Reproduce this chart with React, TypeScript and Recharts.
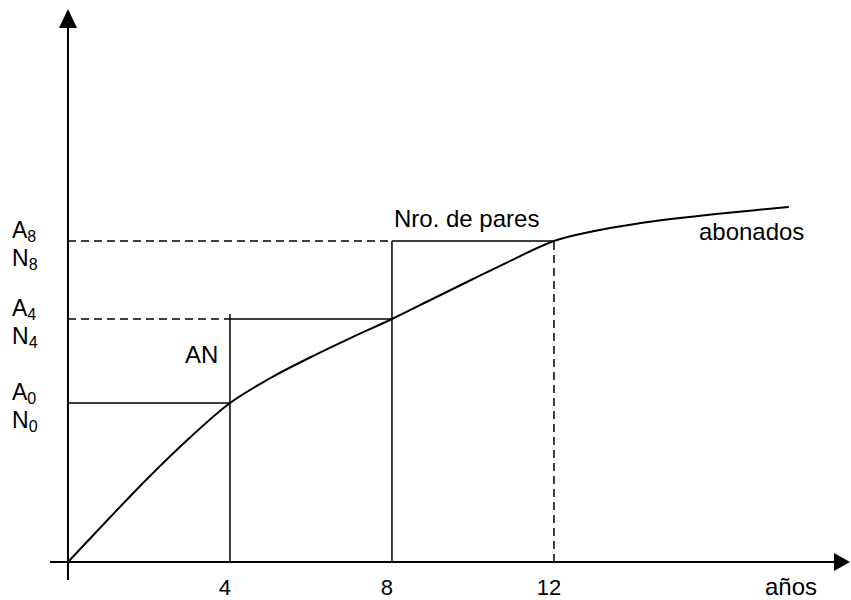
import {
  ComposedChart,
  Line,
  XAxis,
  YAxis,
  ReferenceLine,
  ReferenceDot,
} from 'recharts';

// curve "abonados" (arbitrary units) against years
const years = [0, 1, 2, 3, 4, 5, 6, 7, 8, 9, 10, 11, 12, 13, 14, 15, 16, 17, 17.8];
const abonados = [0, 2.15, 4.25, 6.2, 7.95, 9.2, 10.25, 11.22, 12.15, 13.15, 14.15, 15.13, 16.05, 16.55, 16.9, 17.17, 17.4, 17.6, 17.75];

const xTicks = [4, 8, 12];
const levelYears = [4, 8, 12];
const levelValues = [7.95, 12.15, 16.05];
const levelSubs = ['0', '4', '8'];

const X_DOMAIN: [number, number] = [-0.444, 19.31];
const Y_DOMAIN: [number, number] = [-0.9, 27.7];

const data = years.map((year, i) => ({ year, abonados: abonados[i] }));

const FONT = "'Liberation Sans', Arial, sans-serif";
const INK = '#000';

const XTick = ({ x, y, payload }: any) => (
  <text x={x - 5} y={y + 15} textAnchor="middle" fontFamily={FONT} fontSize={22} fill={INK}>
    {payload.value}
  </text>
);

const YTick = ({ x, y, index }: any) => {
  const sub = levelSubs[index];
  return (
    <g fontFamily={FONT} fill={INK}>
      <text x={x - 38} y={y - 3} fontSize={23}>
        A<tspan fontSize={16} dy={4}>{sub}</tspan>
      </text>
      <text x={x - 38} y={y + 25} fontSize={23}>
        N<tspan fontSize={16} dy={4}>{sub}</tspan>
      </text>
    </g>
  );
};

const note = (text: string) => (p: any) => (
  <text x={p.cx} y={p.cy} fontFamily={FONT} fontSize={24} fill={INK}>
    {text}
  </text>
);

const arrowUp = (p: any) => (
  <polygon points={`${p.cx},${p.cy} ${p.cx - 9},${p.cy + 19} ${p.cx + 9},${p.cy + 19}`} fill={INK} />
);
const arrowRight = (p: any) => (
  <polygon points={`${p.cx},${p.cy} ${p.cx - 16},${p.cy - 9} ${p.cx - 16},${p.cy + 9}`} fill={INK} />
);

export default function App() {
  const [y0, y4, y8] = levelValues;
  const [x4, x8, x12] = levelYears;
  const solid = { stroke: INK, strokeWidth: 1.5 };
  const dashed = { stroke: INK, strokeWidth: 1.5, strokeDasharray: '8 5' };

  return (
    <div style={{ position: 'absolute', left: 0, top: 0, background: '#fff' }}>
      <ComposedChart width={851} height={600} data={data} margin={{ top: 8, right: 1, bottom: 0, left: 0 }}>
        <XAxis
          dataKey="year"
          type="number"
          domain={X_DOMAIN}
          allowDataOverflow
          ticks={xTicks}
          tick={<XTick />}
          axisLine={false}
          tickLine={false}
          tickSize={0}
          tickMargin={0}
          height={20}
        />
        <YAxis
          type="number"
          domain={Y_DOMAIN}
          allowDataOverflow
          ticks={levelValues}
          tick={<YTick />}
          axisLine={false}
          tickLine={false}
          tickSize={0}
          tickMargin={0}
          width={50}
        />

        {/* axes */}
        <ReferenceLine segment={[{ x: X_DOMAIN[0], y: 0 }, { x: 18.95, y: 0 }]} stroke={INK} strokeWidth={2} />
        <ReferenceLine segment={[{ x: 0, y: Y_DOMAIN[0] }, { x: 0, y: 26.9 }]} stroke={INK} strokeWidth={2} />
        <ReferenceDot x={0} y={27.65} r={0} shape={arrowUp} />
        <ReferenceDot x={19.31} y={0} r={0} shape={arrowRight} />

        {/* level lines */}
        <ReferenceLine segment={[{ x: 0, y: y0 }, { x: x4, y: y0 }]} {...solid} />
        <ReferenceLine segment={[{ x: 0, y: y4 }, { x: x4, y: y4 }]} {...dashed} />
        <ReferenceLine segment={[{ x: x4, y: y4 }, { x: x8, y: y4 }]} {...solid} />
        <ReferenceLine segment={[{ x: 0, y: y8 }, { x: x8, y: y8 }]} {...dashed} />
        <ReferenceLine segment={[{ x: x8, y: y8 }, { x: x12, y: y8 }]} {...solid} />
        <ReferenceLine segment={[{ x: x4, y: 0 }, { x: x4, y: 12.4 }]} {...solid} />
        <ReferenceLine segment={[{ x: x8, y: 0 }, { x: x8, y: y8 }]} {...solid} />
        <ReferenceLine segment={[{ x: x12, y: 0 }, { x: x12, y: y8 }]} {...dashed} />

        <Line
          type="monotone"
          dataKey="abonados"
          stroke={INK}
          strokeWidth={2}
          dot={false}
          isAnimationActive={false}
        />

        {/* annotations */}
        <ReferenceDot x={2.89} y={9.95} r={0} shape={note('AN')} />
        <ReferenceDot x={8.05} y={16.75} r={0} shape={note('Nro. de pares')} />
        <ReferenceDot x={15.58} y={16.1} r={0} shape={note('abonados')} />
        <ReferenceDot x={17.21} y={-1.65} r={0} ifOverflow="visible" shape={note('años')} />
      </ComposedChart>
    </div>
  );
}
